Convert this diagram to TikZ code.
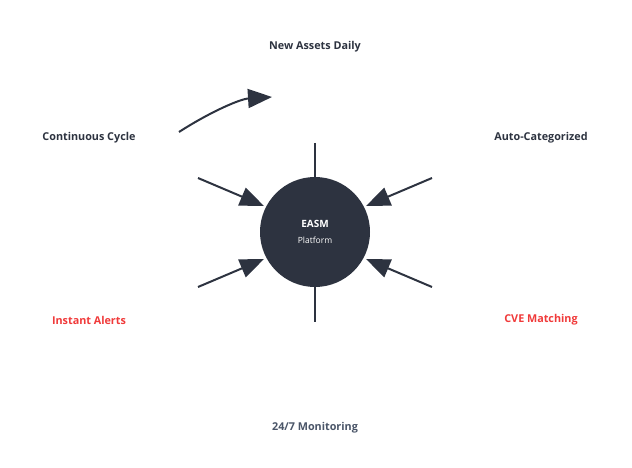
\documentclass[tikz,border=0pt]{standalone}
\usepackage{fontspec}
\setmainfont{Open Sans}
\usetikzlibrary{arrows.meta}
\definecolor{dk}{HTML}{2D3340}
\definecolor{rd}{HTML}{F03A3A}
\definecolor{gy}{HTML}{4A5568}
\begin{document}
\begin{tikzpicture}[x=1pt,y=-1pt,
  lbl/.style={font=\bfseries\fontsize{10.8}{12}\selectfont,text=dk},
  spoke/.style={draw=dk,line width=2pt},
  arr/.style={spoke,-{Triangle[length=24pt,width=19pt]}}]
\useasboundingbox (0,0) rectangle (632,468);
\node[circle,fill=dk,minimum size=110pt,inner sep=0pt] (c) at (315,232) {};
\node[font=\bfseries\fontsize{10}{11}\selectfont,text=white] (t1) at (315,224) {EASM};
\node[font=\fontsize{8.5}{9}\selectfont,text=white] (t2) at (315,240) {Platform};
\coordinate (a1) at (315,143); \coordinate (a2) at (315,177);
\coordinate (b1) at (315,287); \coordinate (b2) at (315,322);
\draw[spoke] (a1) -- (a2);
\draw[spoke] (b1) -- (b2);
\coordinate (l1) at (198,178); \coordinate (l1e) at (264,206);
\coordinate (l2) at (198,287); \coordinate (l2e) at (264,259);
\coordinate (r1) at (432,178); \coordinate (r1e) at (366,206);
\coordinate (r2) at (432,287); \coordinate (r2e) at (366,259);
\draw[arr] (l1) -- (l1e);
\draw[arr] (l2) -- (l2e);
\draw[arr] (r1) -- (r1e);
\draw[arr] (r2) -- (r2e);
\coordinate (cs) at (179,132); \coordinate (ce) at (272,97);
\draw[arr] (cs) .. controls (210,112) and (240,99) .. (ce);
\node[lbl] (n1) at (315,47) {New Assets Daily};
\node[lbl] (n2) at (89,138) {Continuous Cycle};
\node[lbl] (n3) at (541,138) {Auto-Categorized};
\node[lbl,text=rd] (n4) at (89,320) {Instant Alerts};
\node[lbl,text=rd] (n5) at (541,320) {CVE Matching};
\node[lbl,text=gy] (n6) at (315,428) {24/7 Monitoring};
\end{tikzpicture}
\end{document}
